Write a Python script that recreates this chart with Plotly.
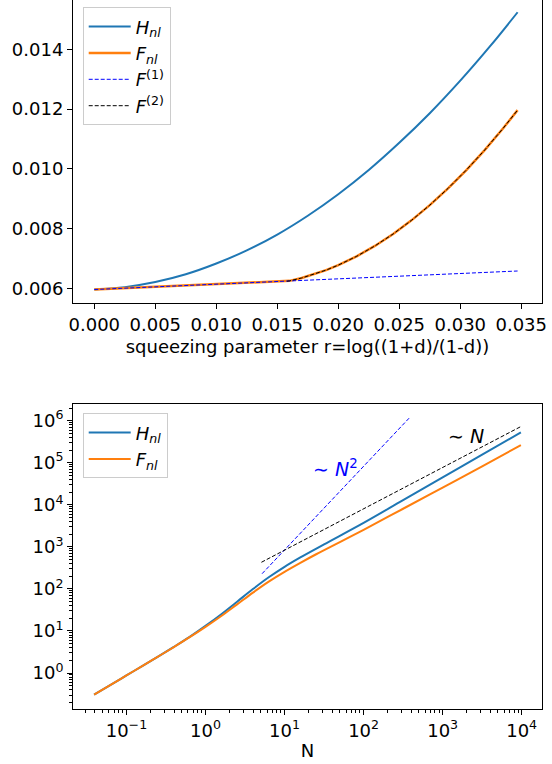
import plotly.graph_objects as go

# ---------------- top panel data ----------------
r_H = [0.0, 0.0025, 0.005, 0.0075, 0.010, 0.0125, 0.015, 0.0175, 0.020, 0.0225,
       0.025, 0.0275, 0.030, 0.0325, 0.0347]
H_top = [0.00596, 0.00604, 0.00621, 0.00647, 0.00683, 0.00727, 0.00780, 0.00843,
         0.00915, 0.00996, 0.01087, 0.01186, 0.01295, 0.01413, 0.01524]

r_F = [0.0, 0.005, 0.010, 0.015, 0.016, 0.017, 0.018, 0.019, 0.020, 0.0215,
       0.023, 0.0245, 0.026, 0.0275, 0.029, 0.0305, 0.032, 0.0335, 0.0347]
F_top = [0.00596, 0.00605, 0.00614, 0.00623, 0.00625, 0.006346, 0.006465, 0.006609,
         0.006776, 0.00707, 0.007419, 0.00782, 0.008275, 0.008783, 0.009345,
         0.009959, 0.010628, 0.011349, 0.011965]

r_F1 = [0.0, 0.0347]
F1_top = [0.00596, 0.00658]

r_F2 = [0.0158, 0.016, 0.017, 0.018, 0.019, 0.020, 0.0215, 0.023, 0.0245, 0.026,
        0.0275, 0.029, 0.0305, 0.032, 0.0335, 0.0347]
F2_top = [0.00624, 0.00625, 0.006346, 0.006465, 0.006609, 0.006776, 0.00707,
          0.007419, 0.00782, 0.008275, 0.008783, 0.009345, 0.009959, 0.010628,
          0.011349, 0.011965]

# ---------------- bottom panel data ----------------
N_H = [0.039, 0.0631, 0.1, 0.158, 0.251, 0.398, 0.631, 1.0, 1.585, 2.512, 3.981,
       6.31, 10, 15.85, 31.6, 100, 316, 1000, 3162, 9772]
H_bot = [0.305, 0.522, 0.875, 1.466, 2.455, 4.17, 7.24, 13.2, 25.1, 49.7, 99.1,
         189, 336, 562, 1148, 3715, 1.29e4, 4.47e4, 1.55e5, 5.25e5]

N_F = [0.039, 0.0631, 0.1, 0.158, 0.251, 0.398, 0.631, 1.0, 1.585, 2.512, 3.981,
       6.31, 10, 15.85, 25.1, 50.1, 100, 316, 1000, 3162, 9772]
F_bot = [0.305, 0.522, 0.875, 1.466, 2.455, 4.15, 7.11, 12.5, 22.7, 42.9, 81.7,
         149, 255, 417, 667, 1303, 2547, 8054, 2.57e4, 8.22e4, 2.63e5]

N2_x = [5.2, 385]
N2_y = [230, 1.2e6]
N1_x = [5.1, 9700]
N1_y = [430, 7.2e5]

x_top_ticks = [0.000, 0.005, 0.010, 0.015, 0.020, 0.025, 0.030, 0.035]
y_top_ticks = [0.006, 0.008, 0.010, 0.012, 0.014]
x_bot_ticks = [0.1, 1, 10, 100, 1000, 10000]
x_bot_text = ["10<sup>−1</sup>", "10<sup>0</sup>", "10<sup>1</sup>", "10<sup>2</sup>",
              "10<sup>3</sup>", "10<sup>4</sup>"]
y_bot_ticks = [1, 10, 100, 1000, 1e4, 1e5, 1e6]
y_bot_text = ["10<sup>0</sup>", "10<sup>1</sup>", "10<sup>2</sup>", "10<sup>3</sup>",
              "10<sup>4</sup>", "10<sup>5</sup>", "10<sup>6</sup>"]

BLUE = "#1f77b4"
ORANGE = "#ff7f0e"
FONT = "DejaVu Sans"

fig = go.Figure()

# top
fig.add_trace(go.Scatter(x=r_H, y=H_top, mode="lines", line=dict(color=BLUE, width=2, shape="spline"),
                         name="<i>H</i><sub><i>nl</i></sub>", xaxis="x", yaxis="y", legend="legend"))
fig.add_trace(go.Scatter(x=r_F, y=F_top, mode="lines", line=dict(color=ORANGE, width=2.5),
                         name="<i>F</i><sub><i>nl</i></sub>", xaxis="x", yaxis="y", legend="legend"))
fig.add_trace(go.Scatter(x=r_F1, y=F1_top, mode="lines", line=dict(color="blue", width=1, dash="4px,2px"),
                         name="<i>F</i><sup>(1)</sup>", xaxis="x", yaxis="y", legend="legend"))
fig.add_trace(go.Scatter(x=r_F2, y=F2_top, mode="lines", line=dict(color="black", width=1, dash="4px,2px"),
                         name="<i>F</i><sup>(2)</sup>", xaxis="x", yaxis="y", legend="legend"))

# bottom
fig.add_trace(go.Scatter(x=N_H, y=H_bot, mode="lines", line=dict(color=BLUE, width=2, shape="spline"),
                         name="<i>H</i><sub><i>nl</i></sub>", xaxis="x2", yaxis="y2", legend="legend2"))
fig.add_trace(go.Scatter(x=N_F, y=F_bot, mode="lines", line=dict(color=ORANGE, width=2, shape="spline"),
                         name="<i>F</i><sub><i>nl</i></sub>", xaxis="x2", yaxis="y2", legend="legend2"))
fig.add_trace(go.Scatter(x=N2_x, y=N2_y, mode="lines", line=dict(color="blue", width=1, dash="4px,2px"),
                         showlegend=False, xaxis="x2", yaxis="y2"))
fig.add_trace(go.Scatter(x=N1_x, y=N1_y, mode="lines", line=dict(color="black", width=1, dash="4px,2px"),
                         showlegend=False, xaxis="x2", yaxis="y2"))

minor_x = [k * 10 ** e for e in range(-2, 5) for k in range(2, 10)]
minor_y = [k * 10 ** e for e in range(-1, 7) for k in range(2, 10)]

axis_common = dict(showline=True, linecolor="black", linewidth=1, ticks="outside",
                   ticklen=5, tickcolor="black", showgrid=False, zeroline=False,
                   tickfont=dict(size=18, color="black", family=FONT))

legend_common = dict(x=0.0207, xanchor="left", yanchor="top", bgcolor="white",
                     bordercolor="#cccccc", borderwidth=1, itemwidth=42,
                     font=dict(size=18, family=FONT, color="black"))

fig.update_layout(
    width=552, height=764,
    margin=dict(l=73, r=10, t=0, b=55),
    paper_bgcolor="white", plot_bgcolor="white",
    font=dict(family=FONT, size=18, color="black"),
    xaxis=dict(domain=[0, 1], anchor="y", range=[-0.001746, 0.0367], tickmode="array",
               tickvals=x_top_ticks, tickformat=".3f", mirror=False,
               title=dict(text="squeezing parameter r=log((1+d)/(1-d))", font=dict(size=18), standoff=6),
               **axis_common),
    yaxis=dict(domain=[0.5726, 1], anchor="x", range=[0.005508, 0.01565], tickmode="array",
               tickvals=y_top_ticks, tickformat=".3f", mirror=True, **axis_common),
    xaxis2=dict(domain=[0, 1], anchor="y2", type="log", range=[-1.676, 4.257], tickmode="array",
                tickvals=x_bot_ticks, ticktext=x_bot_text, mirror=True,
                minor=dict(tickmode="array", tickvals=minor_x, ticks="outside", ticklen=3, tickcolor="black"),
                title=dict(text="N", font=dict(size=18), standoff=4),
                **axis_common),
    yaxis2=dict(domain=[0, 0.4298], anchor="x2", type="log", range=[-0.855, 6.39], tickmode="array",
                tickvals=y_bot_ticks, ticktext=y_bot_text, mirror=True,
                minor=dict(tickmode="array", tickvals=minor_y, ticks="outside", ticklen=3, tickcolor="black"),
                **axis_common),
    legend=dict(y=0.9897, **legend_common),
    legend2=dict(y=0.417, **legend_common),
    annotations=[
        dict(x=1.649, y=4.877, xref="x2", yref="y2", text="∼ <i>N</i><sup>2</sup>", showarrow=False,
             font=dict(size=19, color="blue", family=FONT)),
        dict(x=3.295, y=5.64, xref="x2", yref="y2", text="∼ <i>N</i>", showarrow=False,
             font=dict(size=19, color="black", family=FONT)),
    ],
)

fig.write_html("out.html")
